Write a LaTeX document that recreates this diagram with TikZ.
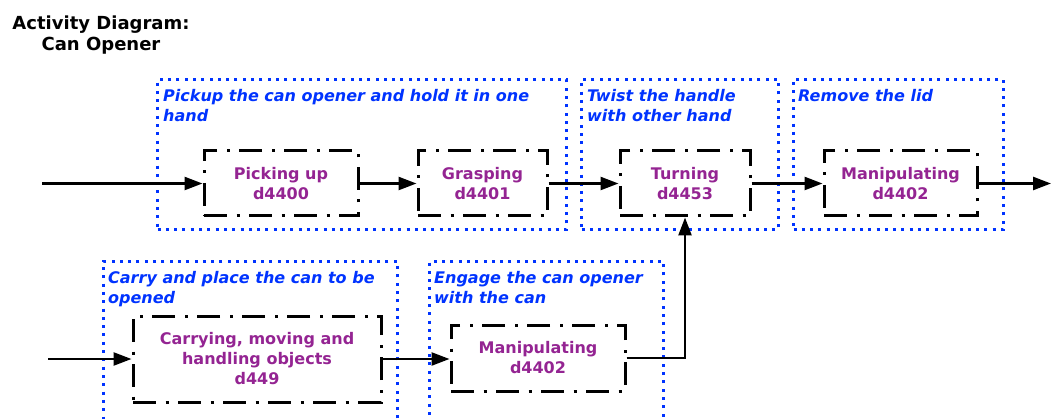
\documentclass[tikz,border=0pt]{standalone}
\usepackage{fontspec}
\setmainfont{DejaVu Sans}
\usetikzlibrary{arrows.meta}

\definecolor{grpblue}{RGB}{0,51,255}
\definecolor{actpurple}{RGB}{148,36,146}

\tikzset{
  group/.style={draw=grpblue, line width=3pt, dash pattern=on 3pt off 5.3pt,
    anchor=north west, inner sep=0pt},
  grouptext/.style={anchor=north west, text=grpblue, align=left, inner sep=0pt,
    font=\bfseries\itshape\fontsize{16}{20}\selectfont},
  activity/.style={draw=black, line width=3pt,
    dash pattern=on 23pt off 9.5pt on 3pt off 9.5pt,
    text=actpurple, align=center, inner sep=0pt,
    font=\bfseries\fontsize{16}{20}\selectfont},
  flow/.style={line width=2.5pt, -{Triangle[length=18pt,width=13pt]}}
}

\begin{document}
\begin{tikzpicture}[x=1pt, y=-1pt]
\useasboundingbox (0,0) rectangle (1051,419);

% title
\node[anchor=north, align=center, font=\bfseries\fontsize{18}{21}\selectfont] (title)
  at (101,12) {Activity Diagram:\\Can Opener};

% swimlane groups
\node[group, minimum width=409pt, minimum height=150pt] (pickup) at (156,78) {};
\node[group, minimum width=197pt, minimum height=150pt] (twist)  at (580,78) {};
\node[group, minimum width=210pt, minimum height=150pt] (remove) at (792,78) {};
\node[group, minimum width=294pt, minimum height=170pt] (carry)  at (102,260) {};
\node[group, minimum width=234pt, minimum height=170pt] (engage) at (428,260) {};

\node[grouptext] (pickuptext) at (163,89) {Pickup the can opener and hold it in one\\hand};
\node[grouptext] (twisttext)  at (587,89) {Twist the handle\\with other hand};
\node[grouptext] (removetext) at (798,89) {Remove the lid};
\node[grouptext] (carrytext)  at (108,271) {Carry and place the can to be\\opened};
\node[grouptext] (engagetext) at (434,271) {Engage the can opener\\with the can};

% activities
\node[activity, minimum width=154pt, minimum height=65pt] (picking) at (281,183.5) {Picking up\\d4400};
\node[activity, minimum width=129pt, minimum height=65pt] (grasping) at (482.5,183.5) {Grasping\\d4401};
\node[activity, minimum width=130pt, minimum height=65pt] (turning) at (685,183.5) {Turning\\d4453};
\node[activity, minimum width=153pt, minimum height=65pt] (maniptop) at (900.5,183.5) {Manipulating\\d4402};
\node[activity, minimum width=248pt, minimum height=86pt] (carrying) at (257,359) {Carrying, moving and\\handling objects\\d449};
\node[activity, minimum width=174pt, minimum height=66pt] (manipbot) at (538,358) {Manipulating\\d4402};

\coordinate (start) at (42,183.5);
\coordinate (startb) at (48,359);
\coordinate (finish) at (1051,183.5);

% flows
\draw[flow] (start) -- (picking);
\draw[flow] (picking) -- (grasping);
\draw[flow] (grasping) -- (turning);
\draw[flow] (turning) -- (maniptop);
\draw[flow] (maniptop) -- (finish);
\draw[flow] (startb) -- (carrying);
\draw[flow] (carrying.east) -- (manipbot.west |- carrying.east);
\draw[flow] (manipbot) -| (turning);
\end{tikzpicture}
\end{document}
